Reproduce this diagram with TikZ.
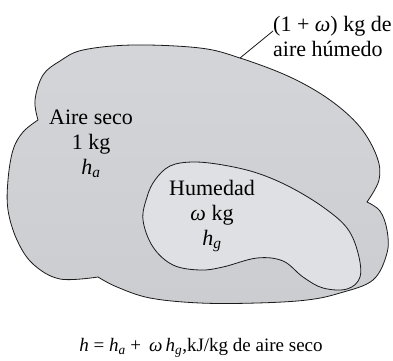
\documentclass[tikz,border=0pt]{standalone}
\usepackage{fontspec}
\setmainfont{Liberation Serif}
\usetikzlibrary{positioning}
\definecolor{mLine}{HTML}{1A1A1A}
\definecolor{mMoist}{HTML}{DFE0E3}
\definecolor{mTop}{RGB}{212,213,216}
\definecolor{mMid}{RGB}{194,195,199}
\definecolor{mBot}{RGB}{204,205,208}
\newcommand{\hh}[1]{\textit{h}\textsubscript{\textit{#1}}}

\begin{document}
\begin{tikzpicture}[x=1pt, y=-1pt,
  blob/.style={draw=mLine, line width=0.8pt},
  txt/.style={align=center, inner sep=0pt, font=\fontsize{22}{25}\selectfont}]
  \useasboundingbox (0,0) rectangle (393,360);
  % moist air: three lobes joined at the notches
  \path[blob, top color=mTop, middle color=mMid, bottom color=mBot]
    plot[smooth, tension=0.6] coordinates {(38,120) (35,100) (43,75) (60,61) (83,50) (133,45)
      (200,48) (240,58) (290,77) (330,100) (360,127) (377,157) (379,180) (367,202)}
    -- plot[smooth, tension=0.6] coordinates {(367,202) (380,211) (387,230) (387,253) (373,280)
      (340,293) (307,300) (257,303) (200,303) (150,298) (117,287) (98,277)}
    -- plot[smooth, tension=0.6] coordinates {(98,277) (60,279) (33,264) (17,240) (8,210)
      (8,180) (13,150) (23,132) (38,120)}
    -- cycle;
  % water vapour
  \path[blob, fill=mMoist]
    plot[smooth cycle, tension=0.6] coordinates {(147,197) (143,220) (153,247) (173,265) (200,270)
      (223,267) (257,258) (283,261) (303,277) (323,288) (347,289) (360,277) (358,253)
      (347,228) (323,207) (290,187) (257,173) (223,165) (193,162) (170,166) (155,180)};
  % labels
  \node[txt] (dry) at (91,144) {Aire seco\\1 kg\\\hh{a}};
  \node[txt] (vap) at (212,216) {Humedad\\\textit{ω} kg\\\hh{g}};
  \node[txt, align=left, anchor=west] (lbl) at (273,36) {(1 + \textit{ω}) kg de\\aire húmedo};
  \coordinate (tip) at (240,58);
  \draw[mLine, line width=0.8pt] (tip) -- ([yshift=5pt]lbl.west);
  \node[txt, font=\fontsize{19}{22}\selectfont] (eq) at (201,348)
    {\textit{h} = \hh{a} +\, \textit{ω}\,\hh{g},kJ/kg de aire seco};
\end{tikzpicture}
\end{document}
